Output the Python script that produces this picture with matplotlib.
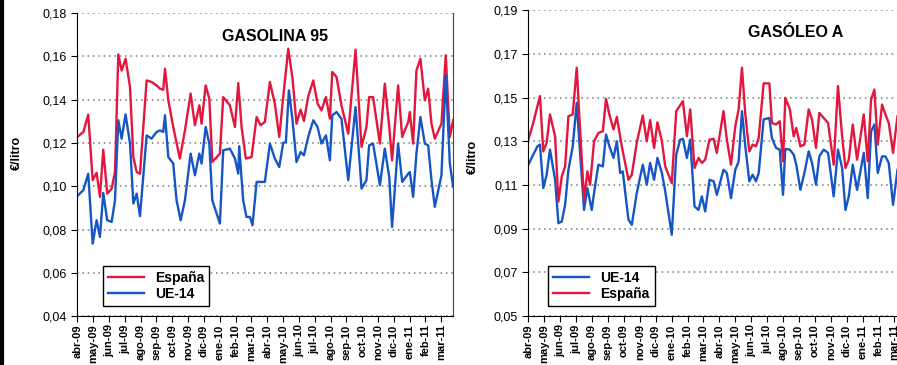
from matplotlib import pyplot as plt
from matplotlib.lines import Line2D
from matplotlib.ticker import FuncFormatter
import numpy as np

plt.rcParams['font.family'] = ['Liberation Sans', 'DejaVu Sans']

meses = ["abr-09", "may-09", "jun-09", "jul-09", "ago-09", "sep-09", "oct-09", "nov-09",
         "dic-09", "ene-10", "feb-10", "mar-10", "abr-10", "may-10", "jun-10", "jul-10",
         "ago-10", "sep-10", "oct-10", "nov-10", "dic-10", "ene-11", "feb-11", "mar-11"]

# GASOLINA 95  (x en meses desde abr-09)
gas_esp_x = [0.00, 0.38, 0.69, 0.97, 1.22, 1.43, 1.64, 1.89, 2.17, 2.38, 2.59, 2.80, 3.05, 3.33, 3.54,
             3.75, 3.96, 4.38, 4.69, 5.01, 5.22, 5.43, 5.54, 5.75, 6.06, 6.48, 6.80, 7.16, 7.43, 7.71,
             7.85, 8.11, 8.34, 8.53, 9.01, 9.22, 9.64, 9.96, 10.17, 10.38, 10.65, 11.01, 11.33, 11.58,
             11.85, 12.17, 12.48, 12.76, 13.01, 13.33, 13.60, 13.85, 14.11, 14.32, 14.59, 14.91, 15.18,
             15.43, 15.71, 15.96, 16.11, 16.38, 16.69, 17.12, 17.58, 17.96, 18.27, 18.44, 18.69, 19.12,
             19.43, 19.71, 19.89, 20.27, 20.53, 20.91, 21.01, 21.22, 21.43, 21.68, 21.96, 22.17, 22.38,
             22.59, 23.01, 23.28, 23.54, 23.75]
gas_esp_y = [0.1228, 0.1251, 0.1331, 0.1028, 0.1062, 0.0951, 0.1169, 0.0966, 0.0989, 0.1066,
             0.1609, 0.1535, 0.1589, 0.1458, 0.1135, 0.1066, 0.1058, 0.1489, 0.1482, 0.1466,
             0.1451, 0.1446, 0.1543, 0.1397, 0.1274, 0.1128, 0.1258, 0.1428, 0.1282, 0.1374,
             0.1289, 0.1466, 0.1405, 0.1112, 0.1151, 0.1412, 0.1374, 0.1274, 0.1477, 0.1274,
             0.1128, 0.1135, 0.1320, 0.1282, 0.1297, 0.1482, 0.1382, 0.1228, 0.1412, 0.1635,
             0.1497, 0.1289, 0.1354, 0.1302, 0.1415, 0.1489, 0.1382, 0.1351, 0.1412, 0.1312,
             0.1528, 0.1505, 0.1374, 0.1243, 0.1631, 0.1182, 0.1274, 0.1412, 0.1412, 0.1197,
             0.1474, 0.1274, 0.1120, 0.1466, 0.1228, 0.1297, 0.1343, 0.1197, 0.1535, 0.1589,
             0.1397, 0.1451, 0.1289, 0.1220, 0.1289, 0.1605, 0.1228, 0.1305]
gas_ue_x = [0.00, 0.38, 0.69, 0.97, 1.22, 1.43, 1.64, 1.89, 2.17, 2.38, 2.59, 2.80, 3.05, 3.33, 3.54,
            3.75, 3.96, 4.38, 4.69, 5.01, 5.22, 5.43, 5.54, 5.75, 6.06, 6.27, 6.53, 6.80, 7.16, 7.43,
            7.71, 7.85, 8.11, 8.34, 8.53, 9.01, 9.22, 9.64, 9.96, 10.17, 10.23, 10.48, 10.69, 10.91,
            11.07, 11.33, 11.58, 11.85, 12.17, 12.48, 12.76, 13.01, 13.18, 13.37, 13.60, 13.85, 14.11,
            14.32, 14.59, 14.91, 15.18, 15.43, 15.71, 15.96, 16.11, 16.38, 16.69, 17.12, 17.58, 17.96,
            18.27, 18.44, 18.69, 19.12, 19.43, 19.71, 19.89, 20.27, 20.53, 20.91, 21.01, 21.22, 21.43,
            21.68, 21.96, 22.17, 22.38, 22.59, 23.01, 23.28, 23.54, 23.75]
gas_ue_y = [0.0955, 0.0982, 0.1058, 0.0735, 0.0843, 0.0766, 0.0969, 0.0843, 0.0835, 0.0935,
            0.1305, 0.1220, 0.1332, 0.1197, 0.0920, 0.0966, 0.0862, 0.1235, 0.1220, 0.1251,
            0.1258, 0.1251, 0.1328, 0.1135, 0.1105, 0.0935, 0.0843, 0.0935, 0.1151, 0.1051,
            0.1151, 0.1105, 0.1274, 0.1197, 0.0935, 0.0828, 0.1166, 0.1174, 0.1128, 0.1058,
            0.1185, 0.0935, 0.0858, 0.0858, 0.0820, 0.1020, 0.1020, 0.1020, 0.1197, 0.1128,
            0.1089, 0.1200, 0.1205, 0.1443, 0.1305, 0.1112, 0.1158, 0.1143, 0.1228, 0.1305,
            0.1274, 0.1197, 0.1235, 0.1120, 0.1328, 0.1343, 0.1312, 0.1028, 0.1366, 0.0989,
            0.1028, 0.1189, 0.1197, 0.1005, 0.1174, 0.1043, 0.0812, 0.1197, 0.1020, 0.1058,
            0.1066, 0.0951, 0.1151, 0.1320, 0.1197, 0.1189, 0.1028, 0.0905, 0.1051, 0.1512,
            0.1105, 0.0997]

# GASÓLEO A
dsl_esp_x = [0.00, 0.31, 0.57, 0.73, 0.94, 1.15, 1.36, 1.68, 1.89, 2.10, 2.31, 2.52, 2.79, 3.04, 3.25,
             3.50, 3.71, 3.88, 4.13, 4.40, 4.68, 4.88, 5.09, 5.35, 5.56, 5.87, 6.29, 6.50, 6.81, 7.19,
             7.44, 7.65, 7.90, 8.11, 8.39, 8.60, 9.01, 9.29, 9.71, 9.96, 10.17, 10.44, 10.69, 10.90,
             11.11, 11.38, 11.64, 11.84, 12.26, 12.47, 12.73, 13.00, 13.21, 13.42, 13.63, 13.88, 14.09,
             14.30, 14.47, 14.78, 15.14, 15.30, 15.56, 15.79, 16.00, 16.14, 16.42, 16.67, 16.83, 17.09,
             17.34, 17.61, 17.82, 18.07, 18.28, 18.55, 18.83, 19.18, 19.45, 19.71, 19.92, 20.13, 20.38,
             20.65, 21.07, 21.32, 21.53, 21.74, 21.95, 22.22, 22.43, 22.64, 22.91, 23.19]
dsl_esp_y = [0.1308, 0.1384, 0.1461, 0.1507, 0.1254, 0.1293, 0.1423, 0.1323, 0.1024, 0.1139,
             0.1185, 0.1415, 0.1423, 0.1637, 0.1354, 0.1032, 0.1162, 0.1101, 0.1300, 0.1338,
             0.1346, 0.1494, 0.1423, 0.1354, 0.1412, 0.1277, 0.1124, 0.1147, 0.1293, 0.1418,
             0.1300, 0.1397, 0.1270, 0.1387, 0.1300, 0.1185, 0.1109, 0.1438, 0.1484, 0.1323,
             0.1446, 0.1178, 0.1224, 0.1201, 0.1216, 0.1308, 0.1311, 0.1247, 0.1438, 0.1308,
             0.1193, 0.1369, 0.1446, 0.1637, 0.1423, 0.1254, 0.1285, 0.1277, 0.1315, 0.1565,
             0.1565, 0.1384, 0.1377, 0.1392, 0.1208, 0.1499, 0.1449, 0.1323, 0.1361, 0.1277,
             0.1285, 0.1446, 0.1400, 0.1270, 0.1430, 0.1407, 0.1384, 0.1193, 0.1553, 0.1323,
             0.1178, 0.1216, 0.1377, 0.1216, 0.1423, 0.1208, 0.1491, 0.1537, 0.1285, 0.1468,
             0.1423, 0.1384, 0.1247, 0.1415]
dsl_ue_x = [0.00, 0.31, 0.57, 0.73, 0.94, 1.15, 1.36, 1.68, 1.89, 2.10, 2.31, 2.52, 2.79, 3.04, 3.25,
            3.50, 3.71, 3.98, 4.19, 4.40, 4.68, 4.88, 5.09, 5.35, 5.56, 5.77, 5.93, 6.29, 6.50, 6.81,
            7.19, 7.44, 7.65, 7.90, 8.11, 8.39, 8.60, 9.01, 9.29, 9.54, 9.71, 9.96, 10.17, 10.44,
            10.69, 10.90, 11.11, 11.38, 11.64, 11.84, 12.26, 12.47, 12.73, 13.00, 13.21, 13.42, 13.63,
            13.88, 14.09, 14.30, 14.47, 14.78, 15.14, 15.30, 15.56, 15.79, 16.00, 16.14, 16.42, 16.67,
            16.83, 17.09, 17.34, 17.61, 17.82, 18.07, 18.28, 18.55, 18.83, 19.18, 19.45, 19.71, 19.92,
            20.13, 20.38, 20.65, 21.07, 21.32, 21.53, 21.74, 21.95, 22.22, 22.43, 22.64, 22.91, 23.19]
dsl_ue_y = [0.1193, 0.1239, 0.1277, 0.1285, 0.1086, 0.1147, 0.1262, 0.1124, 0.0925, 0.0933,
            0.1009, 0.1170, 0.1277, 0.1476, 0.1247, 0.0986, 0.1086, 0.0986, 0.1094, 0.1193,
            0.1185, 0.1331, 0.1277, 0.1224, 0.1300, 0.1155, 0.1162, 0.0941, 0.0918, 0.1063,
            0.1193, 0.1101, 0.1201, 0.1124, 0.1224, 0.1155, 0.1071, 0.0872, 0.1239, 0.1308,
            0.1311, 0.1224, 0.1308, 0.1002, 0.0986, 0.1048, 0.0979, 0.1124, 0.1117, 0.1055,
            0.1170, 0.1155, 0.1040, 0.1170, 0.1208, 0.1438, 0.1277, 0.1117, 0.1147, 0.1117,
            0.1155, 0.1400, 0.1407, 0.1315, 0.1270, 0.1262, 0.1055, 0.1265, 0.1262, 0.1239,
            0.1193, 0.1078, 0.1155, 0.1254, 0.1201, 0.1101, 0.1231, 0.1262, 0.1247, 0.1048,
            0.1262, 0.1178, 0.0986, 0.1048, 0.1193, 0.1078, 0.1247, 0.1040, 0.1346, 0.1377,
            0.1155, 0.1231, 0.1231, 0.1201, 0.1009, 0.1170]

rojo = "#e3173e"
azul = "#1656c4"
coma = FuncFormatter(lambda v, p: ("%.2f" % v).replace(".", ","))


def estilo(ax, ymin, ymax):
    ax.set_xlim(0, 23.75)
    ax.set_ylim(ymin, ymax)
    ax.set_yticks(np.arange(ymin, ymax + 0.001, 0.02))
    ax.yaxis.set_major_formatter(coma)
    ax.set_xticks(range(len(meses)))
    ax.set_xticklabels(meses, rotation=90, fontsize=8, fontweight="bold")
    ax.tick_params(axis="y", labelsize=9, length=4, direction="out")
    ax.tick_params(axis="x", length=4, direction="out", pad=2)
    ax.grid(axis="y", ls=(0, (1, 2.5)), color="#777777", lw=1.1)
    ax.spines["top"].set_visible(False)
    ax.spines["right"].set_color("#444444")


fig = plt.figure(figsize=(8.97, 3.65), dpi=100)

ax1 = fig.add_axes([0.0862, 0.134, 0.419, 0.830])
ax1.plot(gas_esp_x, gas_esp_y, color=rojo, lw=1.7, label="España")
ax1.plot(gas_ue_x, gas_ue_y, color=azul, lw=1.7, label="UE-14")
estilo(ax1, 0.04, 0.18)
ax1.set_ylabel("€/litro", fontsize=9, fontweight="bold")
ax1.yaxis.set_label_coords(-0.146, 0.54)
ax1.text(0.526, 0.924, "GASOLINA 95", transform=ax1.transAxes, ha="center", va="center",
         fontsize=11.5, fontweight="bold")
leg = ax1.legend(loc="lower left", bbox_to_anchor=(0.068, 0.033), borderaxespad=0,
                 fancybox=False, edgecolor="black", framealpha=1, handlelength=2.6,
                 prop={"weight": "bold", "size": 10}, labelspacing=0.15, borderpad=0.35)
leg.get_frame().set_linewidth(1.0)

ax2 = fig.add_axes([0.589, 0.134, 0.4215, 0.838])
ax2.plot(dsl_ue_x, dsl_ue_y, color=azul, lw=1.7, label="UE-14")
ax2.plot(dsl_esp_x, dsl_esp_y, color=rojo, lw=1.7, label="España")
estilo(ax2, 0.05, 0.19)
ax2.set_ylabel("€/litro", fontsize=9, fontweight="bold")
ax2.yaxis.set_label_coords(-0.13, 0.52)
ax2.text(0.706, 0.928, "GASÓLEO A", transform=ax2.transAxes, ha="center", va="center",
         fontsize=11.5, fontweight="bold")
leg = ax2.legend(loc="lower left", bbox_to_anchor=(0.053, 0.033), borderaxespad=0,
                 fancybox=False, edgecolor="black", framealpha=1, handlelength=2.6,
                 prop={"weight": "bold", "size": 10}, labelspacing=0.15, borderpad=0.35)
leg.get_frame().set_linewidth(1.0)

# borde negro a la izquierda
fig.add_artist(Line2D([0.002, 0.002], [0, 1], color="black", lw=3, transform=fig.transFigure))

plt.savefig("out.png", dpi=100)
